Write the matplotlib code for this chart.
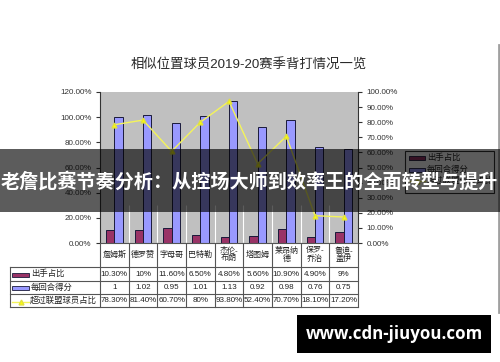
import matplotlib
matplotlib.use("Agg")
import matplotlib.pyplot as plt
import matplotlib.transforms as mtransforms
from matplotlib.patches import Rectangle
from matplotlib.lines import Line2D
import numpy as np

plt.rcParams['font.family'] = ['Liberation Sans', 'Noto Sans CJK SC', 'DejaVu Sans']

# ---- data ----
players = ["詹姆斯", "德罗赞", "字母哥", "巴特勒", "杰伦-\n布朗", "塔图姆", "莱昂纳\n德", "保罗-\n乔治", "鲁迪-\n盖伊"]
shot_share = [0.103, 0.10, 0.116, 0.065, 0.048, 0.056, 0.109, 0.049, 0.09]
shot_share_txt = ["10.30%", "10%", "11.60%", "6.50%", "4.80%", "5.60%", "10.90%", "4.90%", "9%"]
ppp = [1.00, 1.02, 0.95, 1.01, 1.13, 0.92, 0.98, 0.76, 0.75]
ppp_txt = ["1", "1.02", "0.95", "1.01", "1.13", "0.92", "0.98", "0.76", "0.75"]
pct_better = [0.783, 0.814, 0.607, 0.80, 0.938, 0.524, 0.707, 0.181, 0.172]
pct_better_txt = ["78.30%", "81.40%", "60.70%", "80%", "93.80%", "52.40%", "70.70%", "18.10%", "17.20%"]
series_names = ["出手占比", "每回合得分", "超过联盟球员占比"]
title = "相似位置球员2019-20赛季背打情况一览"
banner = "老詹比赛节奏分析：从控场大师到效率王的全面转型与提升"
watermark = "www.cdn-jiuyou.com"

C_SHOT = '#993366'
C_PPP = '#9999ff'
C_LINE = '#f4f45a'
EDGE = '#1a1a3a'

W, H = 500, 362
def fx(px): return px / W
def fy(py): return 1 - py / H

fig = plt.figure(figsize=(5, 3.62), dpi=100)
fig.patch.set_facecolor('white')

ax = fig.add_axes([fx(100), fy(243), fx(358) - fx(100), (243 - 92) / H])
ax2 = ax.twinx()

x = np.arange(len(players))
bw = 0.29
ax.set_facecolor('#c0c0c0')
ax.vlines(np.arange(0.5, len(players) - 0.5), 0, 0.30, color='white', lw=0.8, zorder=1)
ax.bar(x - bw / 2, shot_share, bw, color=C_SHOT, edgecolor=EDGE, lw=0.7, zorder=2)
ax.bar(x + bw / 2, ppp, bw, color=C_PPP, edgecolor=EDGE, lw=0.7, zorder=2)
ax2.plot(x, pct_better, color=C_LINE, lw=1.0, marker='^', ms=3.5,
         markerfacecolor='#ffff00', markeredgecolor='#e0e040', zorder=3)

ax.set_xlim(-0.5, len(players) - 0.5)
ax.set_ylim(0, 1.2)
ax2.set_ylim(0, 1.0)
ax.set_yticks(np.arange(0, 1.21, 0.2))
ax.set_yticklabels([f"{v*100:.2f}%" for v in np.arange(0, 1.21, 0.2)])
ax2.set_yticks(np.arange(0, 1.01, 0.1))
ax2.set_yticklabels([f"{v*100:.2f}%" for v in np.arange(0, 1.01, 0.1)])
ax.set_xticks([])
for a in (ax, ax2):
    a.tick_params(axis='y', direction='out', length=3, width=0.8, colors='#333333',
                  labelsize=5.8, pad=3)
    a.spines['top'].set_visible(False)
    a.spines['bottom'].set_visible(False)
ax.spines['right'].set_visible(False)
ax2.spines['left'].set_visible(False)
ax.spines['left'].set_color('#333333')
ax2.spines['right'].set_color('#333333')

# ---- title ----
fig.text(0.498, fy(65), title, ha='center', va='center', fontsize=9.6, color='#2a2a2a',
         family=['Liberation Sans', 'Noto Sans CJK SC'])

# ---- data table ----
tr = mtransforms.blended_transform_factory(ax.transData, fig.transFigure)
LC = '#555555'
rows_y = [243, 267, 281, 294, 307]
fig.add_artist(Line2D([-0.5, len(players) - 0.5], [fy(243)] * 2, transform=tr, color=LC, lw=0.8))
for yy in rows_y[1:]:
    fig.add_artist(Line2D([fx(10), fx(358)], [fy(yy)] * 2, color=LC, lw=0.8))
for i in range(len(players) + 1):
    fig.add_artist(Line2D([i - 0.5, i - 0.5], [fy(243), fy(307)], transform=tr, color=LC, lw=0.8))
fig.add_artist(Line2D([fx(10), fx(10)], [fy(267), fy(307)], color=LC, lw=0.8))

tfont = dict(fontsize=5.8, color='#222222', ha='center', va='center')
for i, name in enumerate(players):
    fig.text(i, fy(255), name, transform=tr, linespacing=1.1, **tfont)
    fig.text(i, fy(274), shot_share_txt[i], transform=tr, **tfont)
    fig.text(i, fy(287.5), ppp_txt[i], transform=tr, **tfont)
    fig.text(i, fy(300.5), pct_better_txt[i], transform=tr, **tfont)

fig.add_artist(Rectangle((fx(12), fy(276.5)), fx(29) - fx(12), 4 / H, facecolor=C_SHOT, edgecolor=EDGE, lw=0.6))
fig.add_artist(Rectangle((fx(12), fy(290)), fx(29) - fx(12), 4 / H, facecolor=C_PPP, edgecolor=EDGE, lw=0.6))
fig.add_artist(Line2D([fx(12), fx(29)], [fy(301.5)] * 2, color=C_LINE, lw=1.0))
fig.add_artist(Line2D([fx(20.5)], [fy(301.5)], marker='^', ms=3.5, color='#ffff00', markeredgecolor='#e0e040'))
lfont = dict(fontsize=6, color='#222222', ha='left', va='center')
fig.text(fx(31), fy(274), series_names[0], **lfont)
fig.text(fx(31), fy(287.5), series_names[1], **lfont)
fig.text(fx(29.5), fy(300.5), series_names[2], **lfont)

# ---- legend ----
fig.add_artist(Rectangle((fx(405), fy(193)), fx(494) - fx(405), (193 - 151) / H,
                         facecolor='white', edgecolor='#333333', lw=0.8))
ky = [158, 169.5, 181]
fig.add_artist(Rectangle((fx(409), fy(ky[0] + 2)), fx(425) - fx(409), 4 / H, facecolor=C_SHOT, edgecolor=EDGE, lw=0.6))
fig.add_artist(Rectangle((fx(409), fy(ky[1] + 2)), fx(425) - fx(409), 4 / H, facecolor=C_PPP, edgecolor=EDGE, lw=0.6))
fig.add_artist(Line2D([fx(409), fx(425)], [fy(ky[2])] * 2, color=C_LINE, lw=1.0))
fig.add_artist(Line2D([fx(417)], [fy(ky[2])], marker='^', ms=3.5, color='#ffff00', markeredgecolor='#e0e040'))
for k, nm in zip(ky, series_names):
    fig.text(fx(427), fy(k), nm, **lfont)

# right border of source image
fig.add_artist(Line2D([fx(498.5), fx(498.5)], [fy(45), fy(312)], color='#a0a0a0', lw=2))

# ---- banner overlay ----
fig.add_artist(Rectangle((0, fy(212)), 1, (212 - 149) / H, facecolor='black', alpha=0.64,
                         edgecolor='none', zorder=20))
fig.text(fx(249.5), fy(182), banner, ha='center', va='center', fontsize=13.75, color='white',
         weight='bold', family=['Noto Sans CJK SC', 'DejaVu Sans'], zorder=21)

# ---- watermark ----
fig.add_artist(Rectangle((fx(297), fy(353)), fx(491) - fx(297), (353 - 315) / H,
                         facecolor='black', edgecolor='none', zorder=20))
fig.text(fx(394), fy(334), watermark, ha='center', va='center', fontsize=12.2, color='white',
         weight='bold', family=['Open Sans', 'DejaVu Sans'], zorder=21)

fig.savefig('out.png', dpi=100)
